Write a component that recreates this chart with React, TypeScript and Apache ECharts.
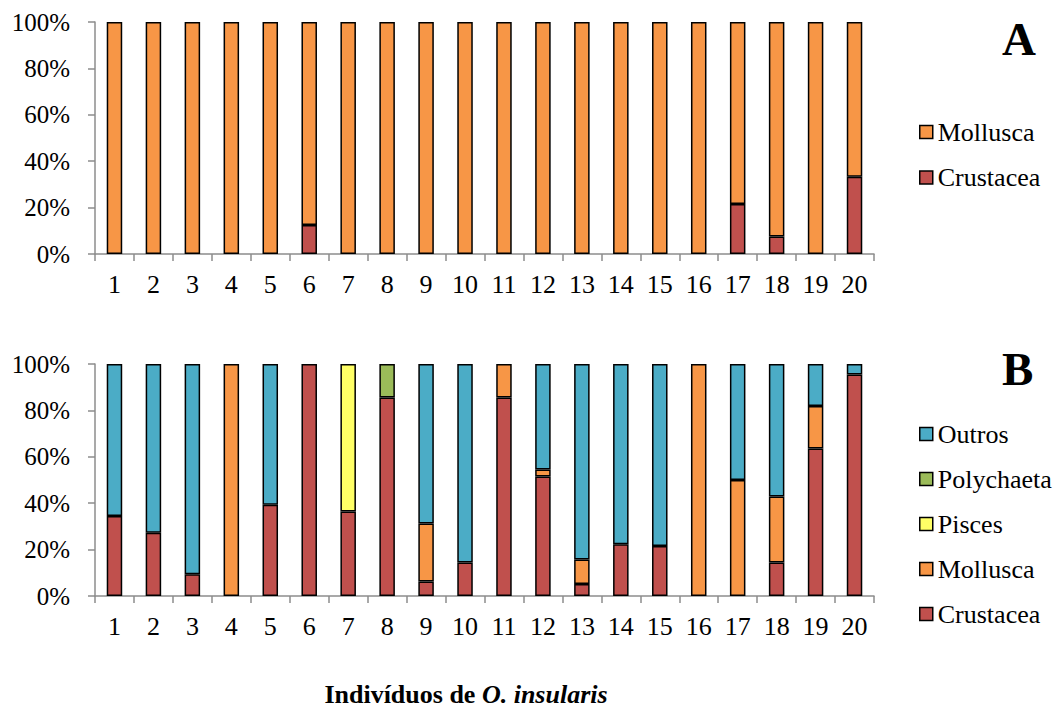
import React, { useEffect, useRef } from "react";
import * as echarts from "echarts";

const categories = ["1","2","3","4","5","6","7","8","9","10","11","12","13","14","15","16","17","18","19","20"];

// Panel A (%)
const aCrustacea = [0,0,0,0,0,12.5,0,0,0,0,0,0,0,0,0,0,21.5,7.5,0,33.3];
const aMollusca = [100,100,100,100,100,87.5,100,100,100,100,100,100,100,100,100,100,78.5,92.5,100,66.7];

// Panel B (%)
const bCrustacea = [34.5,27.3,9.4,0,39.3,100,36.4,85.6,6.3,14.4,85.6,51.5,5.2,22.3,21.6,0,0,14.4,63.6,95.5];
const bMollusca = [0,0,0,100,0,0,0,0,24.9,0,14.4,3.0,10.5,0,0,100,50,28.5,18.3,0];
const bPisces = [0,0,0,0,0,0,63.6,0,0,0,0,0,0,0,0,0,0,0,0,0];
const bPolychaeta = [0,0,0,0,0,0,0,14.4,0,0,0,0,0,0,0,0,0,0,0,0];
const bOutros = [65.5,72.7,90.6,0,60.7,0,0,0,68.8,85.6,0,45.5,84.3,77.7,78.4,0,50,57.1,18.1,4.5];

const COLORS: Record<string, string> = {
  Crustacea: "#C0504D",
  Mollusca: "#F79646",
  Pisces: "#FFFF66",
  Polychaeta: "#9BBB59",
  Outros: "#4BACC6",
};

const FONT = "Liberation Serif";

export default function App() {
  const ref = useRef<HTMLDivElement>(null);
  useEffect(() => {
    if (!ref.current) return;
    const chart = echarts.init(ref.current, undefined, { renderer: "svg" });
    const clean = (arr: number[]) => arr.map((v) => (v === 0 ? null : v));
    const mkSeries = (name: string, data: number[], idx: number, stack: string) => ({
      name,
      type: "bar",
      stack,
      xAxisIndex: idx,
      yAxisIndex: idx,
      barWidth: 15.5,
      data: clean(data),
      itemStyle: { color: COLORS[name], borderColor: "#000", borderWidth: 1.5 },
    });
    const axisColor = "#8c8c8c";
    const xAxisBase = (gridIndex: number) => ({
      type: "category",
      gridIndex,
      data: categories,
      boundaryGap: true,
      axisLine: { show: true, lineStyle: { color: axisColor, width: 1.5 } },
      axisTick: { show: true, length: 7, lineStyle: { color: axisColor, width: 1.5 } },
      axisLabel: { fontFamily: FONT, fontSize: 26, lineHeight: 26, color: "#000", margin: 17, interval: 0 },
    });
    const yAxisBase = (gridIndex: number) => ({
      type: "value",
      gridIndex,
      min: 0,
      max: 100,
      interval: 20,
      axisLine: { show: true, lineStyle: { color: axisColor, width: 1.5 } },
      axisTick: { show: true, length: 7, lineStyle: { color: axisColor, width: 1.5 } },
      splitLine: { show: false },
      axisLabel: { fontFamily: FONT, fontSize: 25, color: "#000", margin: 25, formatter: "{value}%" },
    });
    const legendText = { fontFamily: FONT, fontSize: 26, color: "#000", lineHeight: 26 };
    chart.setOption({
      animation: false,
      grid: [
        { left: 95, top: 22, width: 779, height: 232 },
        { left: 95, top: 364, width: 779, height: 232 },
      ],
      xAxis: [xAxisBase(0), xAxisBase(1)],
      yAxis: [yAxisBase(0), yAxisBase(1)],
      legend: [
        {
          orient: "vertical",
          left: 919,
          top: 119,
          padding: 0,
          itemWidth: 13,
          itemHeight: 13,
          itemGap: 19.5,
          itemStyle: { borderColor: "#000", borderWidth: 1.5 },
          icon: "rect",
          textStyle: legendText,
          data: ["Mollusca", "Crustacea"],
          selectedMode: false,
        },
        {
          orient: "vertical",
          left: 919,
          top: 421,
          padding: 0,
          itemWidth: 13,
          itemHeight: 13,
          itemGap: 19,
          itemStyle: { borderColor: "#000", borderWidth: 1.5 },
          icon: "rect",
          textStyle: legendText,
          data: ["Outros", "Polychaeta", "Pisces", "Mollusca", "Crustacea"],
          selectedMode: false,
        },
      ],
      series: [
        mkSeries("Crustacea", aCrustacea, 0, "A"),
        mkSeries("Mollusca", aMollusca, 0, "A"),
        mkSeries("Crustacea", bCrustacea, 1, "B"),
        mkSeries("Mollusca", bMollusca, 1, "B"),
        mkSeries("Pisces", bPisces, 1, "B"),
        mkSeries("Polychaeta", bPolychaeta, 1, "B"),
        mkSeries("Outros", bOutros, 1, "B"),
      ],
      graphic: [
        {
          type: "text",
          x: 1002,
          y: 39,
          style: { text: "A", fontFamily: FONT, fontSize: 47, fontWeight: "bold", fill: "#000", align: "left", verticalAlign: "middle" },
        },
        {
          type: "text",
          x: 1002,
          y: 369,
          style: { text: "B", fontFamily: FONT, fontSize: 47, fontWeight: "bold", fill: "#000", align: "left", verticalAlign: "middle" },
        },
        {
          type: "text",
          x: 466,
          y: 694,
          style: {
            text: "{a|Indivíduos de }{b|O. insularis}",
            align: "center",
            verticalAlign: "middle",
            rich: {
              a: { fontFamily: FONT, fontSize: 26, fontWeight: "bold", fill: "#000" },
              b: { fontFamily: FONT, fontSize: 26, fontWeight: "bold", fontStyle: "italic", fill: "#000" },
            },
          },
        },
      ],
    });
    return () => chart.dispose();
  }, []);
  return (
    <div
      ref={ref}
      style={{ position: "fixed", left: 0, top: 0, width: 1062, height: 711, background: "#fff" }}
    />
  );
}
